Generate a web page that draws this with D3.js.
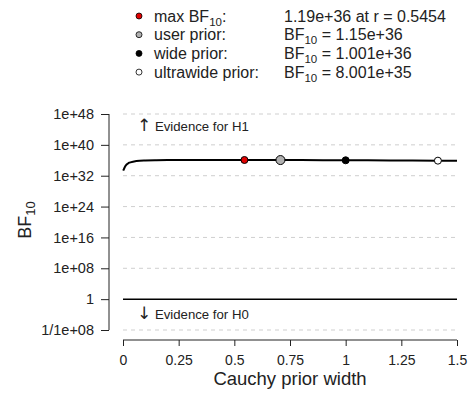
<!DOCTYPE html>
<meta charset="utf-8">
<style>
  body { margin: 0; background: #fff; }
  svg text { font-family: "Liberation Sans", Arial, sans-serif; fill: #222; }
  .grid { stroke: #cfcfcf; stroke-dasharray: 4,4; stroke-width: 1; }
</style>
<body>
<script src="https://cdnjs.cloudflare.com/ajax/libs/d3/7.8.5/d3.min.js"></script>
<script>
// curve: Cauchy prior width vs BF10
var rValues = [0.001, 0.01, 0.025, 0.05, 0.075, 0.1, 0.15, 0.2, 0.3, 0.4, 0.5, 0.5454, 0.6, 0.707, 0.8, 0.9, 1.0, 1.1, 1.2, 1.3, 1.414, 1.5];
var bfValues = [2e33, 3e34, 2e35, 5e35, 7.5e35, 8.8e35, 1.03e36, 1.11e36, 1.17e36, 1.185e36, 1.19e36, 1.19e36, 1.185e36, 1.15e36, 1.11e36, 1.06e36, 1.001e36, 9.5e35, 9.0e35, 8.6e35, 8.001e35, 7.6e35];

// highlighted priors
var pointNames = ["max", "user", "wide", "ultrawide"];
var pointR = [0.5454, 0.7071, 1, 1.4142];
var pointBF = [1.19e36, 1.15e36, 1.001e36, 8.001e35];
var pointFill = ["#e00000", "#b0b0b0", "#000000", "#ffffff"];
var pointSize = [3.5, 4.5, 3.5, 3.5];

var legendLabels = ["max BF|10|:", "user prior:", "wide prior:", "ultrawide prior:"];
var legendValues = ["1.19e+36 at r = 0.5454", "BF|10| = 1.15e+36", "BF|10| = 1.001e+36", "BF|10| = 8.001e+35"];

var yTicks = [1e48, 1e40, 1e32, 1e24, 1e16, 1e8, 1, 1e-8];
var yTickLabels = ["1e+48", "1e+40", "1e+32", "1e+24", "1e+16", "1e+08", "1", "1/1e+08"];
var xTicks = [0, 0.25, 0.5, 0.75, 1, 1.25, 1.5];
var xTickLabels = ["0", "0.25", "0.5", "0.75", "1", "1.25", "1.5"];

var width = 469, height = 397;

var svg = d3.select("body").append("svg")
    .attr("width", width)
    .attr("height", height);

var x = d3.scaleLinear().domain([0, 1.5]).range([123, 457]);
var y = d3.scaleLog().domain([1e-8, 1e48]).range([330, 114]);

// write text with |sub| markers as subscript tspans
function richText(sel, str) {
  var parts = str.split("|");
  parts.forEach(function(p, i) {
    if (p === "") return;
    if (i % 2 === 1) {
      sel.append("tspan").attr("dy", 4).attr("font-size", "0.72em").text(p);
    } else {
      sel.append("tspan").attr("dy", i > 0 ? -4 : 0).text(p);
    }
  });
}

// gridlines
svg.append("g").selectAll("line")
  .data(yTicks.filter(function(d) { return d !== 1; }))
  .enter().append("line")
    .attr("class", "grid")
    .attr("x1", x(0)).attr("x2", x(1.5))
    .attr("y1", function(d) { return y(d); })
    .attr("y2", function(d) { return y(d); });

// BF = 1 line
svg.append("line")
  .attr("x1", x(0)).attr("x2", x(1.5))
  .attr("y1", y(1)).attr("y2", y(1))
  .attr("stroke", "#000").attr("stroke-width", 1.5);

// y axis
var yAxis = d3.axisLeft(y).tickValues(yTicks)
  .tickFormat(function(d, i) { return yTickLabels[i]; })
  .tickSize(8).tickPadding(7);
var gy = svg.append("g").attr("transform", "translate(109,0)").call(yAxis);
gy.select(".domain").attr("d", "M0," + y(1e48) + "V" + y(1e-8)).attr("stroke", "#222");
gy.selectAll(".tick line").attr("stroke", "#222");
gy.selectAll("text").attr("font-size", 14.5).attr("fill", "#222");

// x axis
var xAxis = d3.axisBottom(x).tickValues(xTicks)
  .tickFormat(function(d, i) { return xTickLabels[i]; })
  .tickSize(6).tickPadding(9);
var gx = svg.append("g").attr("transform", "translate(0,340)").call(xAxis);
gx.select(".domain").attr("d", "M" + x(0) + ",0H" + x(1.5)).attr("stroke", "#222");
gx.selectAll(".tick line").attr("stroke", "#222");
gx.selectAll("text").attr("font-size", 14).attr("fill", "#222");

// axis titles
svg.append("text")
  .attr("x", 290).attr("y", 385)
  .attr("text-anchor", "middle").attr("font-size", 18.5)
  .text("Cauchy prior width");

var yl = svg.append("text")
  .attr("transform", "translate(31,220) rotate(-90)")
  .attr("text-anchor", "middle").attr("font-size", 18);
richText(yl, "BF|10|");

// evidence labels
var e1 = svg.append("text").attr("x", 137).attr("y", 131).attr("font-size", 13.2);
e1.append("tspan").attr("font-size", 17).attr("font-family", "DejaVu Sans").text("\u2191");
e1.append("tspan").text(" Evidence for H1");
var e0 = svg.append("text").attr("x", 137).attr("y", 319).attr("font-size", 13.2);
e0.append("tspan").attr("font-size", 17).attr("font-family", "DejaVu Sans").text("\u2193");
e0.append("tspan").text(" Evidence for H0");

// curve
var curveData = rValues.map(function(r, i) { return [r, bfValues[i]]; });
svg.append("path")
  .datum(curveData)
  .attr("fill", "none")
  .attr("stroke", "#000")
  .attr("stroke-width", 2)
  .attr("d", d3.line()
    .x(function(d) { return x(d[0]); })
    .y(function(d) { return y(d[1]); })
    .curve(d3.curveMonotoneX));

// prior points
svg.append("g").selectAll("circle")
  .data(pointR)
  .enter().append("circle")
    .attr("cx", function(d) { return x(d); })
    .attr("cy", function(d, i) { return y(pointBF[i]); })
    .attr("r", function(d, i) { return pointSize[i]; })
    .attr("fill", function(d, i) { return pointFill[i]; })
    .attr("stroke", "#000").attr("stroke-width", 1);

// legend
var legend = svg.append("g");
pointNames.forEach(function(name, i) {
  var ly = 16 + i * 18.7;
  legend.append("circle")
    .attr("cx", 139).attr("cy", ly).attr("r", 3)
    .attr("fill", pointFill[i]).attr("stroke", "#000").attr("stroke-width", 0.8);
  var t1 = legend.append("text").attr("x", 154).attr("y", ly + 5.5).attr("font-size", 16);
  richText(t1, legendLabels[i]);
  var t2 = legend.append("text").attr("x", 284).attr("y", ly + 5.5).attr("font-size", 16);
  richText(t2, legendValues[i]);
});
</script>
</body>
